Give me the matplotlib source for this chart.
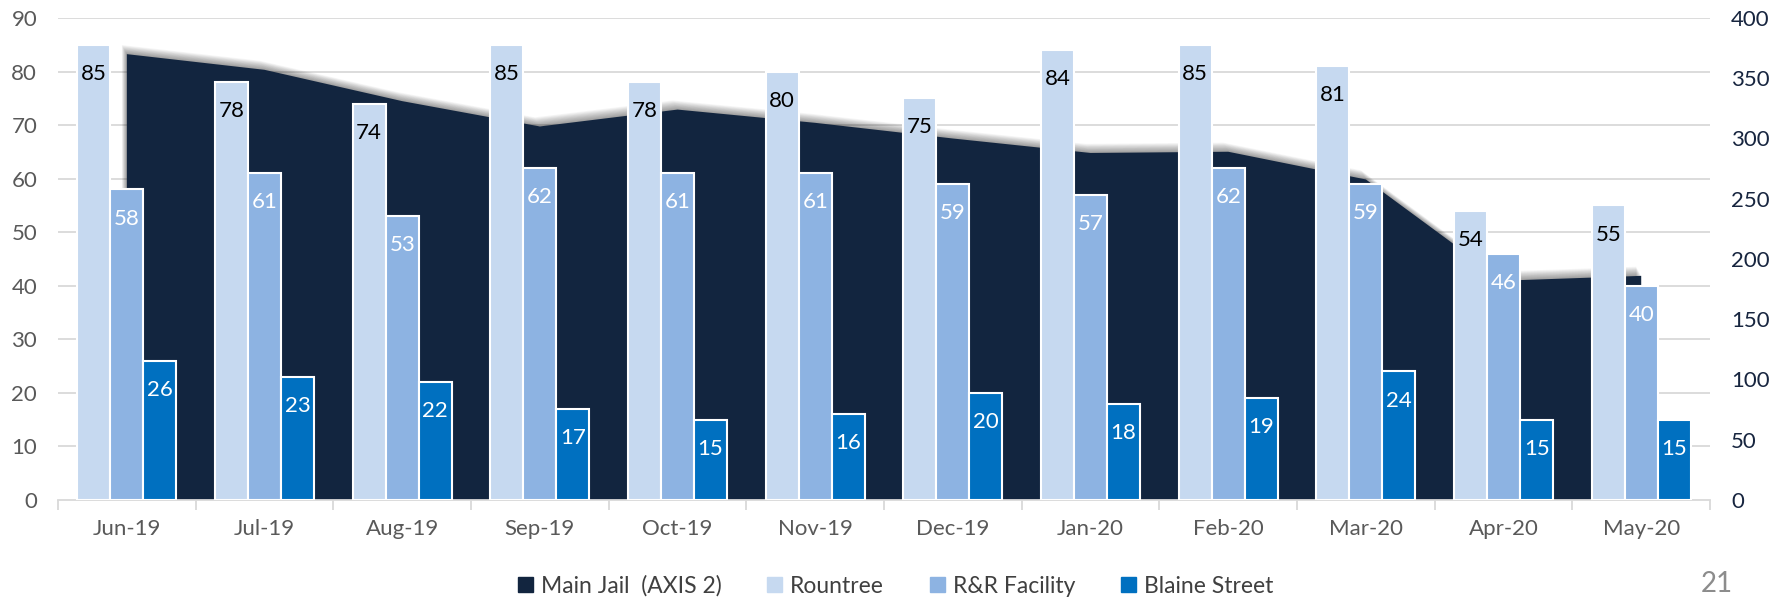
import matplotlib
matplotlib.use('Agg')
import matplotlib.pyplot as plt
import matplotlib.patheffects as pe
from matplotlib.patches import Patch
import numpy as np

months = ['Jun-19', 'Jul-19', 'Aug-19', 'Sep-19', 'Oct-19', 'Nov-19',
          'Dec-19', 'Jan-20', 'Feb-20', 'Mar-20', 'Apr-20', 'May-20']
main_jail = [370, 357, 331, 310, 324, 313, 300, 288, 289, 266, 182, 186]
rountree = [85, 78, 74, 85, 78, 80, 75, 84, 85, 81, 54, 55]
rr_facility = [58, 61, 53, 62, 61, 61, 59, 57, 62, 59, 46, 40]
blaine = [26, 23, 22, 17, 15, 16, 20, 18, 19, 24, 15, 15]

NAVY = '#12253F'
LIGHT = '#C6D9F0'
MID = '#8DB3E2'
BLUE = '#0070C0'
GRID = '#D9D9D9'

plt.rcParams['font.family'] = ['Lato', 'DejaVu Sans']

fig = plt.figure(figsize=(17.91, 6), dpi=100)
ax = fig.add_axes([0.0324, 0.1667, 0.9224, 0.8033])
ax2 = ax.twinx()
ax.set_zorder(ax2.get_zorder() + 1)
ax.patch.set_visible(False)

x = np.arange(len(months))
ax.set_xlim(-0.5, len(months) - 0.5)
ax.set_ylim(0, 90)
ax2.set_ylim(0, 400)

# gridlines follow the left axis but sit behind the area
for t in range(10, 100, 10):
    ax2.axhline(t * 400 / 90, color=GRID, lw=1.3, zorder=0)

# soft shadow on the area (up/left), built from many faint offset copies
shadow = [pe.SimplePatchShadow(offset=(-0.3 * i, 0.55 * i), shadow_rgbFace='black', alpha=0.035)
          for i in range(12, 0, -1)]
ax2.fill_between(x, main_jail, color=NAVY, lw=0, zorder=2,
                 path_effects=shadow + [pe.Normal()])

w = 0.24
series = [(rountree, LIGHT, 'black', 'Rountree'),
          (rr_facility, MID, 'white', 'R&R Facility'),
          (blaine, BLUE, 'white', 'Blaine Street')]
handles = [Patch(color=NAVY, label='Main Jail  (AXIS 2)')]
for i, (vals, col, tcol, name) in enumerate(series):
    bars = ax.bar(x + (i - 1) * w, vals, w, color=col, edgecolor='white',
                  linewidth=1.5, zorder=3)
    for b, v in zip(bars, vals):
        ax.annotate(str(v), (b.get_x() + b.get_width() / 2, v), xytext=(0, -21),
                    textcoords='offset points', ha='center', va='center',
                    color=tcol, fontsize=16, zorder=4)
    handles.append(Patch(color=col, label=name))

for a in (ax, ax2):
    for s in ('top', 'left', 'right'):
        a.spines[s].set_visible(False)
ax2.spines['bottom'].set_visible(False)
ax.spines['bottom'].set_color(GRID)
ax.spines['bottom'].set_linewidth(1.3)

ax.set_xticks(x)
ax.set_xticklabels(months)
ax.set_xticks(np.arange(-0.5, len(months), 1), minor=True)
ax.tick_params(axis='x', which='major', length=0, pad=14, labelsize=16, labelcolor='#595959')
ax.tick_params(axis='x', which='minor', length=7, width=1.3, color=GRID)
ax.set_yticks(range(0, 100, 10))
ax.tick_params(axis='y', length=0, pad=15, labelsize=16, labelcolor='#595959')
ax2.set_yticks(range(0, 450, 50))
ax2.tick_params(axis='y', length=0, pad=15, labelsize=16, labelcolor='#17253F')

fig.legend(handles=handles, loc='center', bbox_to_anchor=(0.5, 1 - 586 / 600), ncol=4,
           frameon=False, fontsize=16.5, handlelength=0.65, handleheight=0.65,
           columnspacing=2.0, handletextpad=0.35, labelcolor='#404040')

fig.text(1717 / 1791, 1 - 584 / 600, '21', ha='center', va='center',
         fontsize=20, color='#8C8C8C')

fig.savefig('out.png', dpi=100)
